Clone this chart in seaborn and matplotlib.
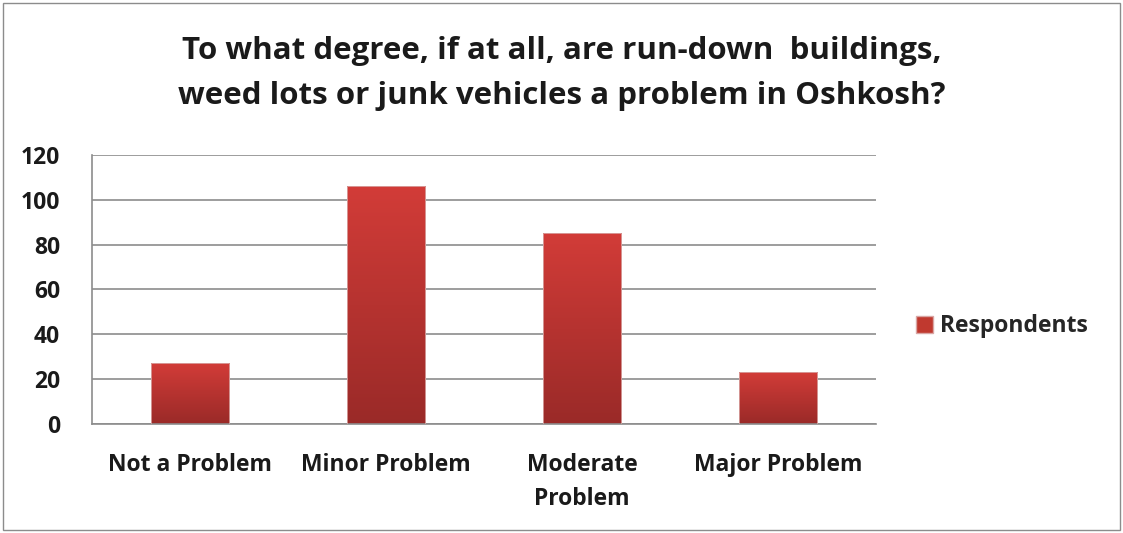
import numpy as np
import pandas as pd
import matplotlib
matplotlib.use("Agg")
import matplotlib.pyplot as plt
from matplotlib.colors import LinearSegmentedColormap
from matplotlib.patches import Rectangle, Patch
import seaborn as sns

categories = ["Not a Problem", "Minor Problem", "Moderate\nProblem", "Major Problem"]
respondents = [27, 106, 85, 23]
y_ticks = [0, 20, 40, 60, 80, 100, 120]
title = "To what degree, if at all, are run-down  buildings,\nweed lots or junk vehicles a problem in Oshkosh?"
series_name = "Respondents"

df = pd.DataFrame({"category": categories, "value": respondents})

sns.set_theme(style="white")
plt.rcParams["font.family"] = ["Open Sans", "DejaVu Sans"]

fig = plt.figure(figsize=(11.23, 5.33), dpi=100)
ax = fig.add_axes([0.082, 0.205, 0.698, 0.504])

sns.barplot(data=df, x="category", y="value", color="#C0392F", width=0.4,
            ax=ax, saturation=1, zorder=3)

# vertical red gradient inside each bar
grad_cmap = LinearSegmentedColormap.from_list("bar_grad", ["#9A2A28", "#D23C38"])
grad = np.linspace(0, 1, 256).reshape(-1, 1)
for bar in ax.patches:
    x0, y0 = bar.get_x(), bar.get_y()
    w, h = bar.get_width(), bar.get_height()
    bar.set_facecolor("none")
    bar.set_edgecolor("#D9A6A4")
    bar.set_linewidth(0.6)
    im = ax.imshow(grad, cmap=grad_cmap, origin="lower", aspect="auto",
                   extent=(x0, x0 + w, y0, y0 + h), zorder=2.5,
                   interpolation="bilinear")
    im.set_clip_path(bar)

ax.set_xlim(-0.5, len(categories) - 0.5)
ax.set_ylim(0, 120)
ax.set_yticks(y_ticks)
ax.set_yticklabels([str(t) for t in y_ticks], fontsize=16.5, fontweight="bold")
ax.set_xticks(range(len(categories)))
ax.set_xticklabels(categories, fontsize=16.5, fontweight="bold", linespacing=1.55)
ax.set_xticks(np.arange(-0.5, len(categories), 1.0), minor=True)
ax.tick_params(axis="x", which="major", length=0, pad=21, colors="#1a1a1a")
ax.tick_params(axis="x", which="minor", length=9, width=1.2, color="#8c8c8c",
               direction="out")
ax.tick_params(axis="y", length=10, width=1.2, color="#8c8c8c", direction="out",
               pad=13, colors="#1a1a1a")
ax.tick_params(axis="y", color="#8c8c8c")
ax.set_xlabel("")
ax.set_ylabel("")

ax.yaxis.grid(True, color="#8c8c8c", linewidth=1.2, zorder=0)
ax.set_axisbelow(True)
for side in ["top", "right"]:
    ax.spines[side].set_visible(False)
for side in ["left", "bottom"]:
    ax.spines[side].set_color("#8c8c8c")
    ax.spines[side].set_linewidth(1.2)

fig.text(0.5, 0.862, title, ha="center", va="center", fontsize=22.5,
         fontweight="bold", color="#1a1a1a", linespacing=1.62)

handle = Patch(facecolor="#C0392F", edgecolor="#D9A6A4")
fig.legend([handle], [series_name], loc="center left",
           bbox_to_anchor=(0.797, 0.388), frameon=False,
           prop={"size": 16.5, "weight": "bold"}, handlelength=0.75,
           handleheight=0.75, handletextpad=0.3)

fig.patches.append(Rectangle((0.003, 0.006), 0.994, 0.988, transform=fig.transFigure,
                             fill=False, edgecolor="#8c8c8c", linewidth=1.0))

fig.savefig("out.png", dpi=100, facecolor="white")
